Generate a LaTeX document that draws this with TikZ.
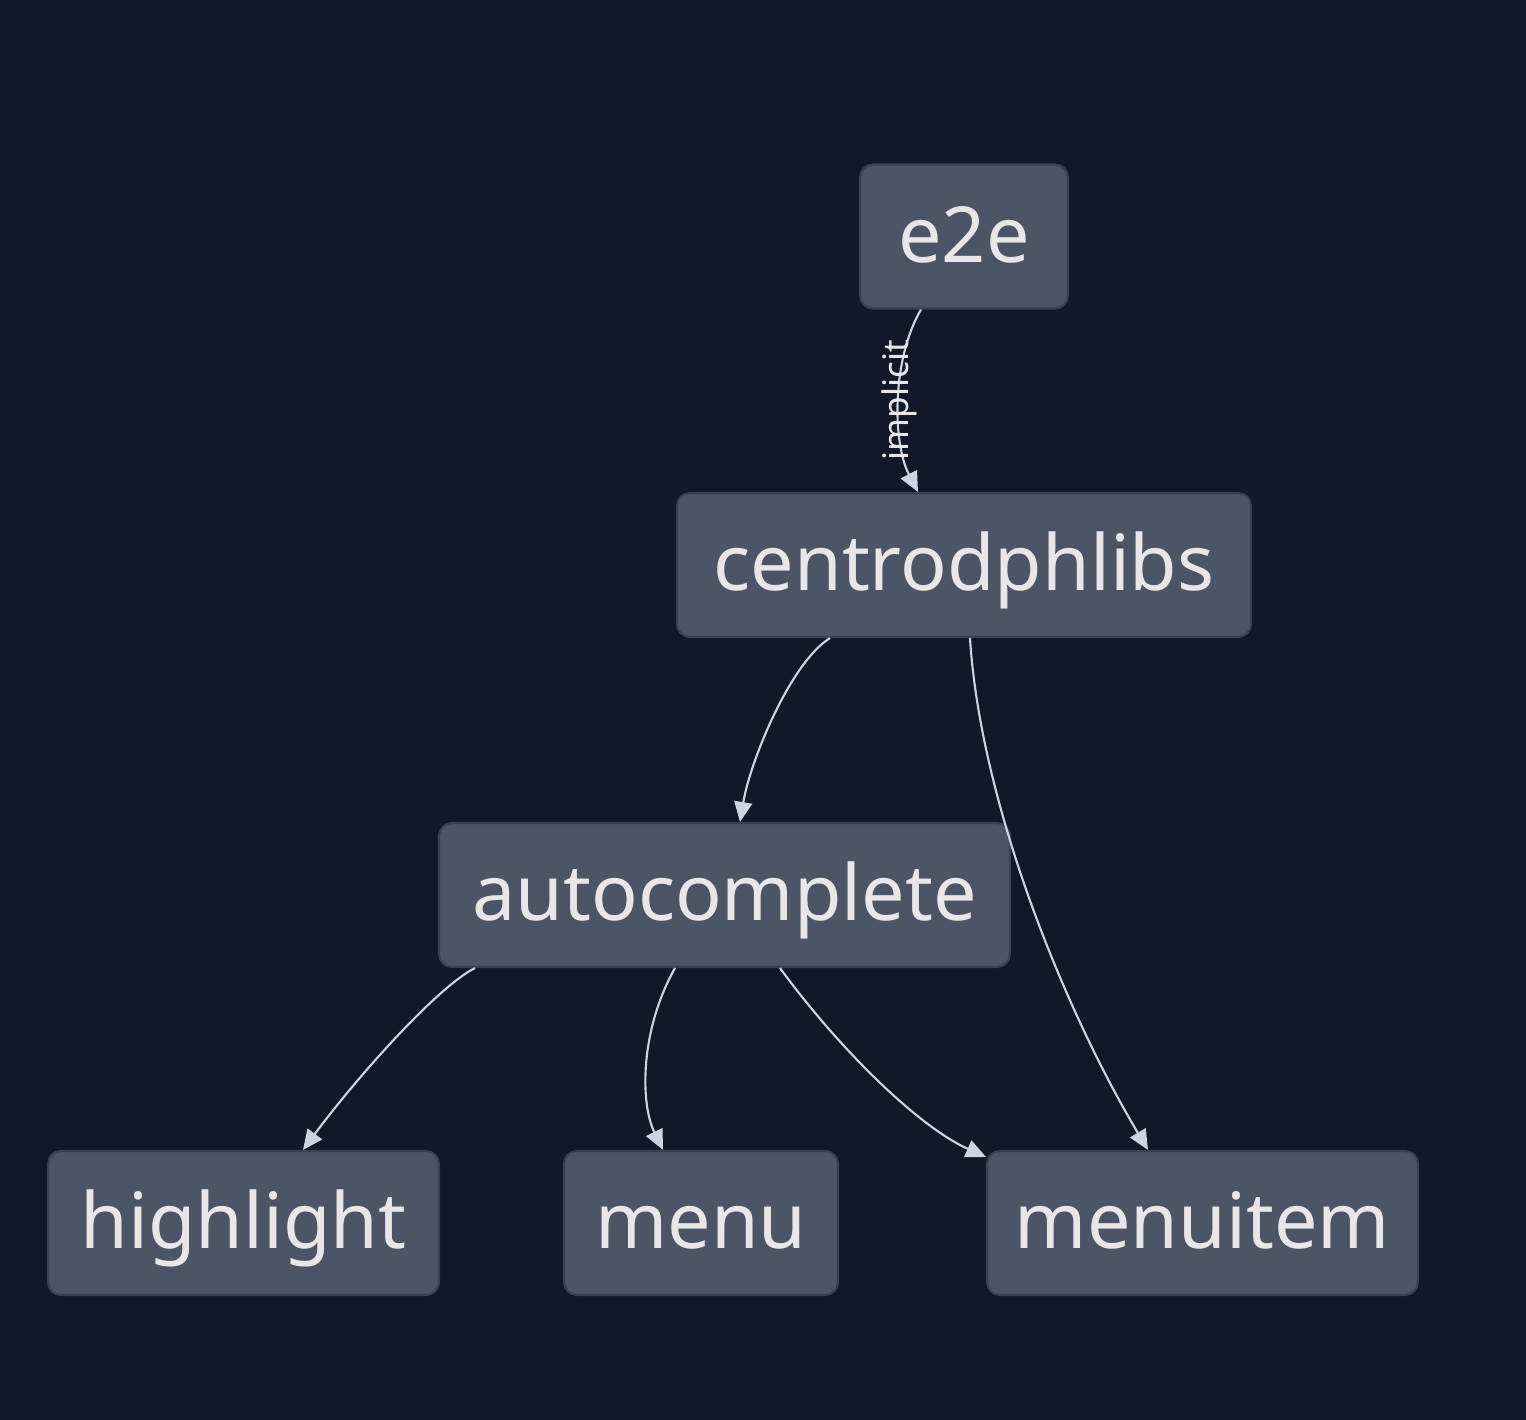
\documentclass[tikz,border=0pt]{standalone}
\usepackage{fontspec}
\setmainfont{Noto Sans}
\usepackage{xcolor}
\definecolor{graphBg}{HTML}{111827}
\definecolor{graphNode}{HTML}{4B5563}
\definecolor{graphBorder}{HTML}{374151}
\definecolor{graphText}{HTML}{E5E7EB}
\definecolor{graphEdge}{HTML}{CBD5E1}
\usetikzlibrary{arrows.meta}

\tikzset{
  pkg/.style={rectangle, rounded corners=0.13cm, draw=graphBorder, line width=0.6pt,
    fill=graphNode, text=graphText, minimum height=1.44cm,
    text height=0.72cm, text depth=0.21cm,
    font=\fontsize{22}{26}\selectfont},
  dep/.style={graphEdge, line width=0.6pt, -{Triangle[length=0.2cm, width=0.18cm]}},
  deplabel/.style={text=graphText, font=\fontsize{10}{12}\selectfont, inner sep=0pt}
}

\begin{document}
\begin{tikzpicture}
  \fill[graphBg] (0,0) rectangle (15.26,-14.2);
  \useasboundingbox (0,0) rectangle (15.26,-14.2);
  \node[pkg, minimum width=2.08cm] (e2e) at (9.64,-2.365) {e2e};
  \node[pkg, minimum width=5.74cm] (centrodphlibs) at (9.64,-5.65) {centrodphlibs};
  \node[pkg, minimum width=5.71cm] (autocomplete) at (7.245,-8.95) {autocomplete};
  \node[pkg, minimum width=3.91cm] (highlight) at (2.435,-12.23) {highlight};
  \node[pkg, minimum width=2.74cm] (menu) at (7.01,-12.23) {menu};
  \node[pkg, minimum width=4.31cm] (menuitem) at (12.025,-12.23) {menuitem};
  \draw[dep] ([xshift=-0.43cm]e2e.south) .. controls +(-0.29,-0.49) and +(-0.26,0.5) .. ([xshift=-0.46cm]centrodphlibs.north)
    node[deplabel, pos=0.5, rotate=90] {implicit};
  \draw[dep] ([xshift=-1.34cm]centrodphlibs.south) .. controls +(-0.4,-0.25) and +(0.1,0.6) .. ([xshift=0.155cm]autocomplete.north);
  \draw[dep] ([xshift=0.06cm]centrodphlibs.south) .. controls +(0.1,-1.6) and +(-0.88,1.48) .. ([xshift=-0.545cm]menuitem.north);
  \draw[dep] ([xshift=-2.495cm]autocomplete.south) .. controls +(-0.35,-0.17) and +(0.57,0.77) .. ([xshift=0.595cm]highlight.north);
  \draw[dep] ([xshift=-0.495cm]autocomplete.south) .. controls +(-0.35,-0.62) and +(-0.23,0.47) .. ([xshift=-0.38cm]menu.north);
  \draw[dep] ([xshift=0.555cm]autocomplete.south) .. controls +(0.6,-0.82) and +(-0.67,0.3) .. ([yshift=-0.07cm]menuitem.north west);
\end{tikzpicture}
\end{document}
